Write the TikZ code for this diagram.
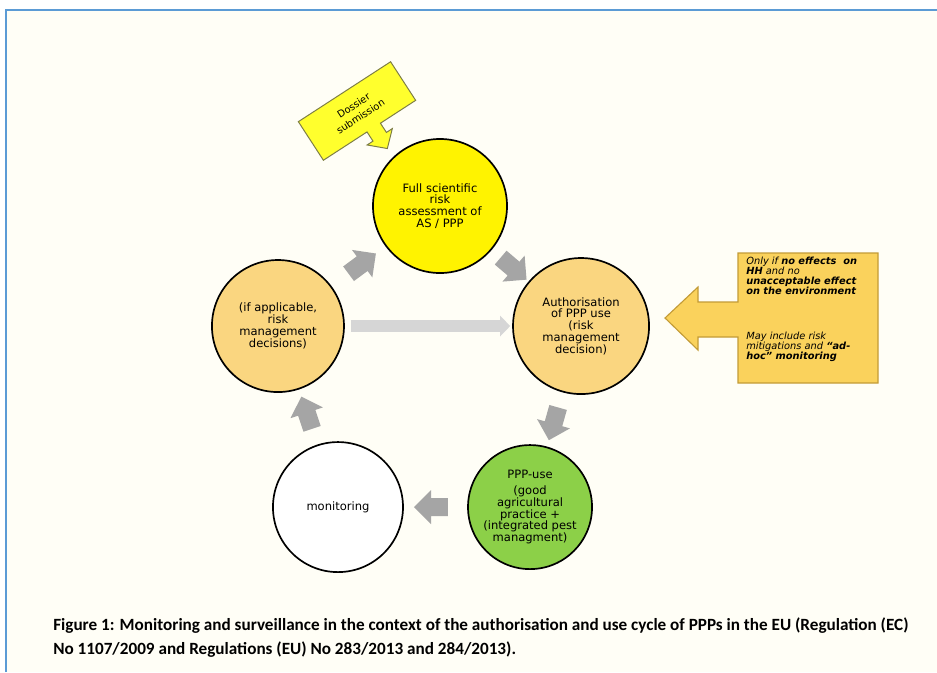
\documentclass[tikz,border=0pt]{standalone}
\usepackage{fontspec}
\setmainfont{DejaVu Sans}
\newfontfamily\capfont{Carlito}
\usetikzlibrary{arrows.meta,positioning,shapes.arrows}

\definecolor{pagecream}{RGB}{255,254,246}
\definecolor{frameblue}{RGB}{91,155,213}
\definecolor{assessyellow}{RGB}{255,243,0}
\definecolor{decisionorange}{RGB}{250,214,128}
\definecolor{usegreen}{RGB}{140,208,72}
\definecolor{arrowgray}{RGB}{165,165,165}
\definecolor{passgray}{RGB}{214,214,214}
\definecolor{dossierfill}{RGB}{255,255,45}
\definecolor{dossieredge}{RGB}{125,125,70}
\definecolor{calloutgold}{RGB}{250,210,92}
\definecolor{calloutedge}{RGB}{195,155,55}

\begin{document}
\begin{tikzpicture}[
    x=0.025cm, y=-0.025cm,
    font=\fontsize{8.2}{8.4}\selectfont,
    stage/.style={circle, draw, line width=1.2pt, align=center, inner sep=0pt},
    decision/.style={stage, fill=decisionorange},
    cycarrow/.style={single arrow, fill=arrowgray, minimum height=0.85cm, minimum width=0.85cm,
        single arrow head extend=0.2cm, inner xsep=0pt, inner ysep=0.22cm,
        sloped, allow upside down, midway},
    pass/.style={draw=passgray, line width=0.28cm, -{Triangle[length=0.25cm, width=0.5cm]},
        shorten <=0.15cm, shorten >=0.05cm},
    dossierbox/.style={fill=dossierfill, draw=dossieredge, line width=0.7pt},
    callout/.style={fill=calloutgold, draw=calloutedge, line width=0.8pt},
    caption/.style={font=\capfont\bfseries\fontsize{12.2}{17.7}\selectfont, align=left, inner sep=0pt}
]
    \useasboundingbox (0,0) rectangle (937,672);
    \fill[pagecream] (6,10) rectangle (937,672);
    \draw[frameblue, line width=1.5pt] (6,672) -- (6,10) -- (937,10);

    % cycle
    \node[stage, fill=assessyellow, minimum size=3.35cm] (assess) at (440,206)
        {Full scientific\\risk\\assessment of\\AS / PPP};
    \node[decision, minimum size=3.3cm, on grid, below left=3cm and 4.05cm of assess] (riskmgmt)
        {(if applicable,\\risk\\management\\decisions)};
    \node[decision, minimum size=3.4cm, on grid, below right=3cm and 3.525cm of assess] (authorise)
        {Authorisation\\of PPP use\\(risk\\management\\decision)};
    \node[stage, fill=usegreen, minimum size=3.1cm, on grid, below left=4.525cm and 1.275cm of authorise] (pppuse)
        {PPP-use\\[3pt](good\\agricultural\\practice +\\(integrated pest\\managment)};
    \node[stage, fill=white, minimum size=3.25cm, on grid, left=4.8cm of pppuse] (monitor) {monitoring};

    \path (riskmgmt) -- (assess) node[cycarrow] {};
    \path (assess) -- (authorise) node[cycarrow] {};
    \path (authorise) -- (pppuse) node[cycarrow] {};
    \path (pppuse) -- (monitor) node[cycarrow] {};
    \path (monitor) -- (riskmgmt) node[cycarrow] {};
    \draw[pass] (riskmgmt) -- (authorise);

    % dossier callout
    \coordinate (dosspos) at (357,111);
    \begin{scope}[shift={(dosspos)}, rotate=33]
        \draw[dossierbox] (-55,-23) -- (55,-23) -- (55,23) -- (13,23) -- (13,34) -- (20,34) -- (5,48)
            -- (-10,34) -- (-3,34) -- (-3,23) -- (-55,23) -- cycle;
    \end{scope}
    \node[rotate=33, align=center, font=\fontsize{7}{9}\selectfont] (dossier) at (dosspos) {Dossier\\submission};

    % conditions callout
    \draw[callout] (738,253) -- (878,253) -- (878,383) -- (738,383) -- (738,337) -- (698,337) -- (698,350)
        -- (665,318) -- (698,287) -- (698,302) -- (738,302) -- cycle;
    \node[anchor=north west, inner sep=0pt, align=left, font=\fontsize{7}{7.1}\selectfont\itshape] (conditions) at (746,257)
        {Only if \textbf{no effects\ \ on}\\\textbf{HH} and no\\\textbf{unacceptable effect}\\\textbf{on the environment}\\[25pt]May include risk\\mitigations and \textbf{“ad-}\\\textbf{hoc” monitoring}};

    \node[caption, anchor=north west] (caption) at (53,617)
        {Figure 1: Monitoring and surveillance in the context of the authorisation and use cycle of PPPs in the EU (Regulation (EC)\\No 1107/2009 and Regulations (EU) No 283/2013 and 284/2013).};
\end{tikzpicture}
\end{document}
